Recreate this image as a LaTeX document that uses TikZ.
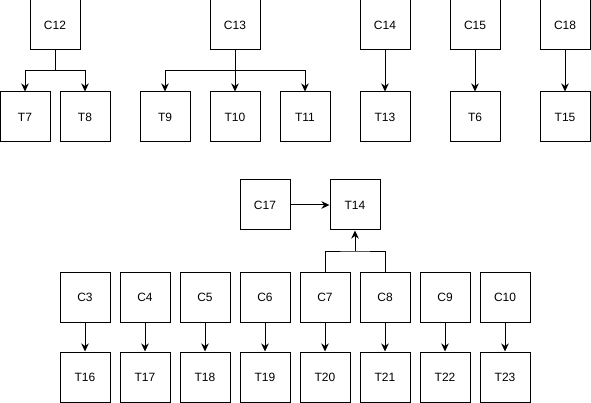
\documentclass[tikz,border=0pt]{standalone}
\usepackage{fontspec}
\setmainfont{Liberation Sans}
\usetikzlibrary{arrows.meta}
\begin{document}
\begin{tikzpicture}[x=1pt,y=-1pt,
  box/.style={draw,line width=1pt,minimum width=50pt,minimum height=50pt,inner sep=0pt,font=\fontsize{12}{14}\selectfont},
  arr/.style={line width=1pt,-{Stealth[length=8pt,width=7.5pt,inset=2.5pt]}},
  ln/.style={line width=1pt}]
\useasboundingbox (0,0) rectangle (591,403);
% top row
\node[box] (C12) at (55,25) {C12};
\node[box] (C13) at (235,25) {C13};
\node[box] (C14) at (385,25) {C14};
\node[box] (C15) at (475,25) {C15};
\node[box] (C18) at (565,25) {C18};
\node[box] (T7) at (25,117) {T7};
\node[box] (T8) at (85,117) {T8};
\node[box] (T9) at (165,117) {T9};
\node[box] (T10) at (235,117) {T10};
\node[box] (T11) at (305,117) {T11};
\node[box] (T13) at (385,117) {T13};
\node[box] (T6) at (475,117) {T6};
\node[box] (T15) at (565,117) {T15};
\coordinate (b12) at (55,71);
\coordinate (b13) at (235,71);
\draw[ln] (C12.south) -- (b12);
\draw[arr] (b12) -| (T7.north);
\draw[arr] (b12) -| (T8.north);
\draw[arr] (C13.south) -- (T10.north);
\draw[arr] (b13) -| (T9.north);
\draw[arr] (b13) -| (T11.north);
\draw[arr] (C14) -- (T13);
\draw[arr] (C15) -- (T6);
\draw[arr] (C18) -- (T15);
% middle
\node[box] (C17) at (265,205) {C17};
\node[box] (T14) at (355,205) {T14};
\draw[arr] (C17) -- (T14);
% bottom
\foreach \c/\t/\x in {C3/T16/85,C4/T17/145,C5/T18/205,C6/T19/265,C7/T20/325,C8/T21/385,C9/T22/445,C10/T23/505}{
  \node[box] (\c) at (\x,297) {\c};
  \node[box] (\t) at (\x,377) {\t};
  \draw[arr] (\c) -- (\t);
}
\coordinate (b14) at (355,251);
\draw[ln] (C7.north) |- (b14) -| (C8.north);
\draw[arr] (b14) -- (T14.south);
\end{tikzpicture}
\end{document}
